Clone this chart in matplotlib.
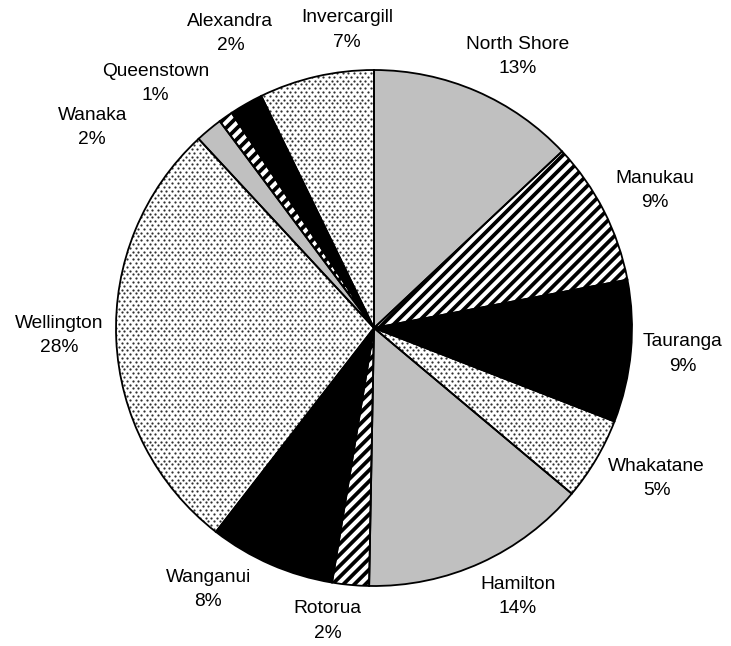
import numpy as np
import matplotlib
matplotlib.use("Agg")
import matplotlib.pyplot as plt
from matplotlib.collections import LineCollection

categories = ["North Shore", "Manukau", "Tauranga", "Whakatane", "Hamilton", "Rotorua",
              "Wanganui", "Wellington", "Wanaka", "Queenstown", "Alexandra", "Invercargill"]
values = [13.0, 9.0, 8.9, 5.2, 14.2, 2.3, 7.9, 27.6, 1.7, 0.9, 2.1, 7.2]

# label layout: angular shift (deg, clockwise) and distance (in radii) from centre
label_shift = [4.4, 0.9, -0.4, -2.6, -3.7, 3.8, 8.8, 1.2, -14.8, -6.7, 3.7, 7.8]
label_dist = [1.19, 1.21, 1.20, 1.24, 1.18, 1.15, 1.20, 1.22, 1.34, 1.27, 1.27, 1.16]

plt.rcParams['font.family'] = ['Liberation Sans', 'DejaVu Sans']

W, H = 731, 646
fig = plt.figure(figsize=(W / 100, H / 100), dpi=100)
cx, cy, R = 374, 328, 258
ax = fig.add_axes([(cx - R) / W, (H - cy - R) / H, 2 * R / W, 2 * R / H])

styles = ["gray", "stripe", "black", "dots"]
face = {"gray": "#c0c0c0", "stripe": "white", "black": "black", "dots": "white"}

wedges, _ = ax.pie(values, startangle=90, counterclock=False, radius=1,
                   wedgeprops=dict(linewidth=0))
ax.set_xlim(-1, 1)
ax.set_ylim(-1, 1)
ax.set_aspect('equal')
ax.axis('off')

px = 1.0 / R  # one pixel in data units

# stripe texture
period = 7.8 * px * np.sqrt(2)
cs = np.arange(-2.2, 2.2, period)
segs = [[(-1.2, -1.2 + c), (1.2, 1.2 + c)] for c in cs]

# dot texture (staggered lattice)
dx_, dy_ = 5.6 * px, 3.8 * px
rows = np.arange(-1.0, 1.0 + dy_, dy_)
gx, gy = [], []
for k, yy in enumerate(rows):
    xs = np.arange(-1.0, 1.0 + dx_, dx_) + (dx_ / 2 if k % 2 else 0)
    gx.append(xs)
    gy.append(np.full_like(xs, yy))
gx = np.concatenate(gx)
gy = np.concatenate(gy)

for i, w in enumerate(wedges):
    s = styles[i % 4]
    w.set_facecolor(face[s])
    w.set_zorder(1)
    if s == "stripe":
        lc = LineCollection(segs, colors='black', linewidths=2.7, zorder=2)
        ax.add_collection(lc)
        lc.set_clip_path(w)
    elif s == "dots":
        sc = ax.scatter(gx, gy, s=2.6, c='#303030', marker='o', linewidths=0, zorder=2)
        sc.set_clip_path(w)

outl, _ = ax.pie(values, startangle=90, counterclock=False, radius=1,
                 wedgeprops=dict(linewidth=1.3, edgecolor='black', facecolor='none', zorder=3))
ax.set_xlim(-1, 1)
ax.set_ylim(-1, 1)
ax.axis('off')

total = sum(values)
for i, w in enumerate(wedges):
    mid = 90 - (w.theta1 + w.theta2) / 2  # degrees clockwise from north
    th = np.deg2rad(mid + label_shift[i])
    d = label_dist[i]
    pct = round(values[i] / total * 100)
    ax.text(d * np.sin(th), d * np.cos(th), f"{categories[i]}\n{pct}%", ha='center', va='center',
            multialignment='center', fontsize=13.8, linespacing=1.55, clip_on=False)

fig.savefig("out.png", dpi=100)
